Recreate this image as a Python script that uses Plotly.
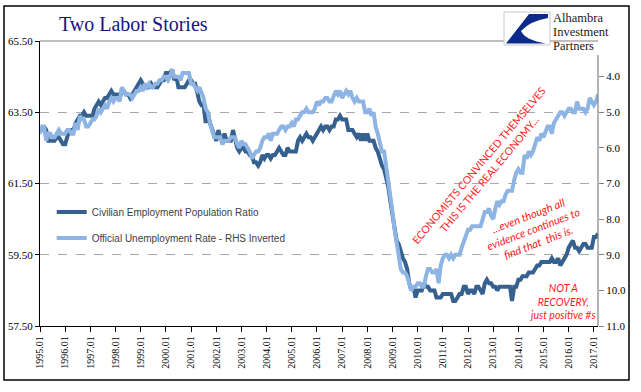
import pandas as pd
import plotly.graph_objects as go

# ---- data (monthly, Jan 1995 - Mar 2017) ----
emp_pop_ratio = [
    63.0, 63.0, 63.1, 63.0, 62.7, 62.7, 62.7, 62.7, 62.8, 62.8, 62.7, 62.6,  # 1995
    62.6, 62.8, 63.0, 63.0, 63.0, 63.2, 63.3, 63.4, 63.4, 63.5, 63.4, 63.4,  # 1996
    63.4, 63.4, 63.6, 63.7, 63.8, 63.7, 63.8, 63.9, 63.9, 64.0, 64.1, 64.0,  # 1997
    64.0, 64.0, 63.9, 64.1, 64.1, 64.0, 64.0, 63.9, 64.0, 64.1, 64.2, 64.3,  # 1998
    64.4, 64.3, 64.2, 64.2, 64.2, 64.3, 64.2, 64.2, 64.2, 64.3, 64.4, 64.4,  # 1999
    64.6, 64.6, 64.6, 64.7, 64.4, 64.5, 64.2, 64.2, 64.2, 64.2, 64.3, 64.4,  # 2000
    64.4, 64.3, 64.3, 64.0, 63.8, 63.7, 63.7, 63.2, 63.5, 63.2, 63.0, 62.9,  # 2001
    62.7, 63.0, 62.8, 62.7, 62.9, 62.7, 62.7, 62.7, 63.0, 62.7, 62.5, 62.4,  # 2002
    62.5, 62.5, 62.4, 62.4, 62.3, 62.3, 62.1, 62.1, 62.0, 62.1, 62.3, 62.2,  # 2003
    62.3, 62.3, 62.2, 62.3, 62.3, 62.4, 62.5, 62.4, 62.3, 62.3, 62.5, 62.4,  # 2004
    62.4, 62.4, 62.4, 62.7, 62.8, 62.7, 62.8, 62.9, 62.8, 62.8, 62.7, 62.8,  # 2005
    62.9, 63.0, 63.1, 63.0, 63.1, 63.1, 63.0, 63.1, 63.1, 63.3, 63.3, 63.4,  # 2006
    63.3, 63.3, 63.3, 63.0, 63.0, 63.0, 62.9, 62.8, 62.9, 62.7, 62.9, 62.7,  # 2007
    62.9, 62.7, 62.7, 62.7, 62.5, 62.4, 62.2, 62.0, 61.9, 61.7, 61.4, 61.0,  # 2008
    60.6, 60.3, 59.9, 59.8, 59.6, 59.4, 59.3, 59.1, 58.7, 58.5, 58.6, 58.3,  # 2009
    58.5, 58.5, 58.5, 58.7, 58.6, 58.6, 58.5, 58.5, 58.5, 58.3, 58.3, 58.3,  # 2010
    58.4, 58.4, 58.4, 58.4, 58.4, 58.2, 58.2, 58.3, 58.4, 58.4, 58.6, 58.6,  # 2011
    58.4, 58.5, 58.5, 58.4, 58.6, 58.6, 58.5, 58.4, 58.7, 58.8, 58.7, 58.7,  # 2012
    58.6, 58.6, 58.5, 58.6, 58.6, 58.6, 58.6, 58.6, 58.6, 58.2, 58.6, 58.6,  # 2013
    58.8, 58.8, 58.9, 58.9, 58.9, 59.0, 59.0, 59.0, 59.1, 59.2, 59.2, 59.3,  # 2014
    59.3, 59.3, 59.3, 59.3, 59.4, 59.3, 59.3, 59.4, 59.2, 59.3, 59.4, 59.5,  # 2015
    59.7, 59.8, 59.9, 59.7, 59.7, 59.6, 59.7, 59.8, 59.8, 59.7, 59.7, 59.7,  # 2016
    60.0, 60.0, 60.1,                                                        # 2017
]
unemployment_rate = [
    5.6, 5.4, 5.4, 5.8, 5.6, 5.6, 5.7, 5.7, 5.6, 5.5, 5.6, 5.6,  # 1995
    5.6, 5.5, 5.5, 5.6, 5.6, 5.3, 5.5, 5.1, 5.2, 5.2, 5.4, 5.4,  # 1996
    5.3, 5.2, 5.2, 5.1, 4.9, 5.0, 4.9, 4.8, 4.9, 4.7, 4.6, 4.7,  # 1997
    4.6, 4.6, 4.7, 4.3, 4.4, 4.5, 4.5, 4.5, 4.6, 4.5, 4.4, 4.4,  # 1998
    4.3, 4.4, 4.2, 4.3, 4.2, 4.3, 4.3, 4.2, 4.2, 4.1, 4.1, 4.0,  # 1999
    4.0, 4.1, 4.0, 3.8, 4.0, 4.0, 4.0, 4.1, 3.9, 3.9, 3.9, 3.9,  # 2000
    4.2, 4.2, 4.3, 4.4, 4.3, 4.5, 4.6, 4.9, 5.0, 5.3, 5.5, 5.7,  # 2001
    5.7, 5.7, 5.7, 5.9, 5.8, 5.8, 5.8, 5.7, 5.7, 5.7, 5.9, 6.0,  # 2002
    5.8, 5.9, 5.9, 6.0, 6.1, 6.3, 6.2, 6.1, 6.1, 6.0, 5.8, 5.7,  # 2003
    5.7, 5.6, 5.8, 5.6, 5.6, 5.6, 5.5, 5.4, 5.4, 5.5, 5.4, 5.4,  # 2004
    5.3, 5.4, 5.2, 5.2, 5.1, 5.0, 5.0, 4.9, 5.0, 5.0, 5.0, 4.9,  # 2005
    4.7, 4.8, 4.7, 4.7, 4.6, 4.6, 4.7, 4.7, 4.5, 4.4, 4.5, 4.4,  # 2006
    4.6, 4.5, 4.4, 4.5, 4.4, 4.6, 4.7, 4.6, 4.7, 4.7, 4.7, 5.0,  # 2007
    5.0, 4.9, 5.1, 5.0, 5.4, 5.6, 5.8, 6.1, 6.1, 6.5, 6.8, 7.3,  # 2008
    7.8, 8.3, 8.7, 9.0, 9.4, 9.5, 9.5, 9.6, 9.8, 10.0, 9.9, 9.9,  # 2009
    9.8, 9.8, 9.9, 9.9, 9.6, 9.4, 9.4, 9.5, 9.5, 9.4, 9.8, 9.3,  # 2010
    9.1, 9.0, 9.0, 9.1, 9.0, 9.1, 9.0, 9.0, 9.0, 8.8, 8.6, 8.5,  # 2011
    8.3, 8.3, 8.2, 8.2, 8.2, 8.2, 8.2, 8.0, 7.8, 7.8, 7.7, 7.9,  # 2012
    8.0, 7.7, 7.5, 7.6, 7.5, 7.5, 7.3, 7.2, 7.2, 7.2, 6.9, 6.7,  # 2013
    6.6, 6.7, 6.7, 6.2, 6.3, 6.1, 6.2, 6.1, 5.9, 5.7, 5.8, 5.6,  # 2014
    5.7, 5.5, 5.4, 5.4, 5.6, 5.3, 5.2, 5.1, 5.0, 5.0, 5.1, 5.0,  # 2015
    4.9, 4.9, 5.0, 5.0, 4.7, 4.9, 4.9, 4.9, 5.0, 4.9, 4.6, 4.7,  # 2016
    4.8, 4.7, 4.5,                                               # 2017
]
months = pd.date_range("1995-01-01", periods=len(emp_pop_ratio), freq="MS")
x_tick_dates = pd.date_range("1995-01-01", "2017-01-01", freq="YS")
left_ticks = [57.5, 59.5, 61.5, 63.5, 65.5]
right_ticks = [4.0, 5.0, 6.0, 7.0, 8.0, 9.0, 10.0, 11.0]
series_names = ["Civilian Employment Population Ratio",
                "Official Unemployment Rate - RHS Inverted"]
logo_lines = ["Alhambra", "Investment", "Partners"]

# ---- geometry helpers (pixel -> paper) ----
W, H = 641, 392
L, R, T, B = 40, 598, 41, 326


def px(x):
    return (x - L) / (R - L)


def py(y):
    return (B - y) / (B - T)


SERIF = "Liberation Serif, Times New Roman, serif"
DARK = "#36618f"
LIGHT = "#8db4e2"
RED = "#ff1a1a"

fig = go.Figure()
fig.add_trace(go.Scatter(x=months, y=emp_pop_ratio, name=series_names[0],
                         mode="lines", line=dict(color=DARK, width=4),
                         legendgroup="a"))
fig.add_trace(go.Scatter(x=months, y=unemployment_rate, name=series_names[1],
                         mode="lines", line=dict(color=LIGHT, width=4),
                         yaxis="y2", legendgroup="b"))

fig.update_layout(
    width=W, height=H,
    margin=dict(l=L, r=W - R, t=T, b=H - B, autoexpand=False),
    paper_bgcolor="white", plot_bgcolor="white",
    showlegend=True,
    legend=dict(x=0.021, y=0.451, xanchor="left", yanchor="top",
                bgcolor="rgba(0,0,0,0)", tracegroupgap=7,
                traceorder="grouped",
                font=dict(family="Liberation Sans, Arial, sans-serif",
                          size=10, color="#404040")),
    xaxis=dict(range=[months[0], months[-1]], tickvals=x_tick_dates,
               tickformat="%Y.%m", tickangle=-90, automargin=False,
               tickfont=dict(family=SERIF, size=10, color="black"),
               showgrid=False, zeroline=False, showline=True,
               linecolor="black", linewidth=1.3,
               ticks="outside", ticklen=5, tickcolor="black"),
    yaxis=dict(range=[57.5, 65.5], tickvals=left_ticks, tickformat=".2f",
               automargin=False,
               tickfont=dict(family=SERIF, size=11, color="black"),
               showgrid=True, gridcolor="#a8a8a8", griddash="dash",
               gridwidth=0.8, zeroline=False, showline=True,
               linecolor="black", linewidth=1.3,
               ticks="outside", ticklen=4, tickcolor="black"),
    yaxis2=dict(range=[11, 3], overlaying="y", side="right",
                tickvals=right_ticks, tickformat=".1f", automargin=False,
                tickfont=dict(family=SERIF, size=11, color="black"),
                showgrid=False, zeroline=False, showline=False,
                ticks="outside", ticklen=5, tickcolor="#808080"),
)

shapes = [
    # outer frame
    dict(type="rect", xref="paper", yref="paper", x0=px(4), x1=px(629),
         y0=py(380), y1=py(6), line=dict(color="black", width=1.5),
         layer="above"),
    # top plot border
    dict(type="line", xref="paper", yref="paper", x0=0, x1=1,
         y0=1, y1=1, line=dict(color="#808080", width=1.2)),
    # right axis line (below logo)
    dict(type="line", xref="paper", yref="paper", x0=1, x1=1,
         y0=0, y1=py(55), line=dict(color="#808080", width=1.2)),
    # logo box
    dict(type="rect", xref="paper", yref="paper", x0=px(504), x1=px(550),
         y0=py(45), y1=py(12), fillcolor="white",
         line=dict(color="#c8c8c8", width=1), layer="above"),
]
# logo graphic (navy swoosh)
path = ("M {a},{b} L {c},{b} L {c},{d} Q {e},{f} {g},{h} "
        "Q {i},{j} {k},{l} L {m},{l} Z").format(
    a=px(529), b=py(14), c=px(548), d=py(18), e=px(530), f=py(21),
    g=px(521), h=py(31), i=px(525), j=py(40), k=px(546), l=py(43.5),
    m=px(506))
shapes.append(dict(type="path", xref="paper", yref="paper", path=path,
                   fillcolor="#0c2a8a", line=dict(width=0), layer="above"))
fig.update_layout(shapes=shapes)

annotations = [
    dict(text="Two Labor Stories", x=px(57), y=py(24), xref="paper",
         yref="paper", xanchor="left", yanchor="middle", showarrow=False,
         font=dict(family=SERIF, size=20, color="#141485")),
    dict(text="ECONOMISTS CONVINCED THEMSELVES<br>THIS IS THE REAL ECONOMY...",
         x=px(484), y=py(170), xref="paper", yref="paper",
         xanchor="center", yanchor="middle", showarrow=False, textangle=-50,
         font=dict(family="Lato, Open Sans, sans-serif", size=10.5, color=RED)),
    dict(text="<i>...even though all<br>evidence continues to<br>find that  this is.</i>",
         x=px(533), y=py(229), xref="paper", yref="paper",
         xanchor="center", yanchor="middle", showarrow=False, textangle=-21,
         font=dict(family="Lato, Open Sans, sans-serif", size=11, color=RED)),
    dict(text="<i>NOT A<br>RECOVERY,<br>just positive #s</i>",
         x=px(563), y=py(301), xref="paper", yref="paper",
         xanchor="center", yanchor="middle", showarrow=False,
         font=dict(family="Lato, Open Sans, sans-serif", size=10.5, color=RED)),
]
for i, word in enumerate(logo_lines):
    annotations.append(dict(text=word, x=px(551), y=py(18 + 14 * i),
                            xref="paper", yref="paper", xanchor="left",
                            yanchor="middle", showarrow=False,
                            font=dict(family=SERIF, size=12.5, color="#1a1a1a")))
fig.update_layout(annotations=annotations)

fig.write_html("out.html", config={"displayModeBar": False},
               post_script="document.body.style.margin='0px';")
